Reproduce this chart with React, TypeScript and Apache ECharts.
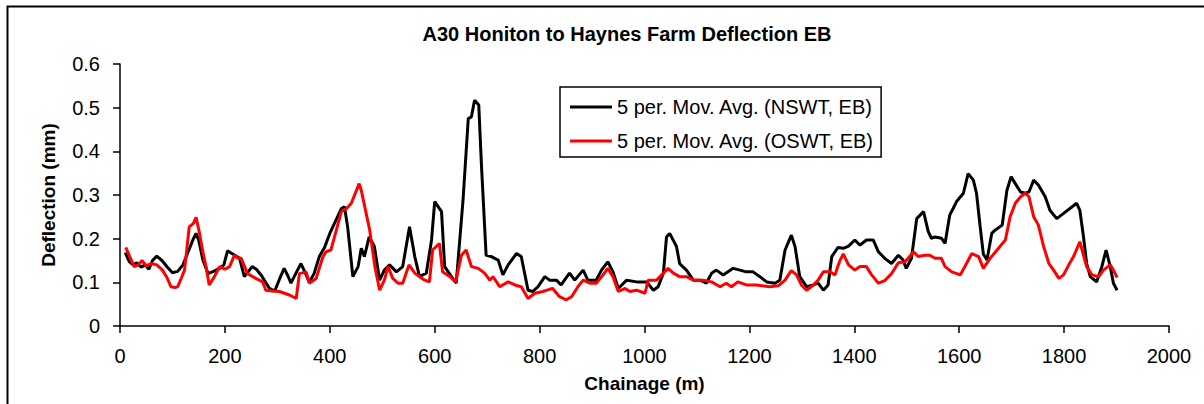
import React, { useEffect, useRef } from "react";
import * as echarts from "echarts";

const chartTitle = "A30 Honiton to Haynes Farm Deflection EB";
const xAxisName = "Chainage (m)";
const yAxisName = "Deflection (mm)";
const nswtName = "5 per. Mov. Avg. (NSWT, EB)";
const oswtName = "5 per. Mov. Avg. (OSWT, EB)";

const nswtChainage = [
  10, 18, 25, 32, 40, 48, 55, 62, 70, 80, 90, 100, 110, 120, 130, 140, 145, 150, 158, 168,
  178, 190, 198, 205, 215, 228, 237, 245, 252, 260, 270, 285, 295, 305, 313, 320, 326, 335, 345, 352,
  361, 370, 380, 390, 400, 412, 422, 428, 434, 444, 454, 460, 466, 475, 485, 495, 504, 514, 527, 539,
  552, 562, 571, 584, 594, 600, 613, 619, 632, 641, 654, 664, 670, 676, 684, 689, 698, 708, 721, 730,
  740, 756, 765, 778, 787, 797, 810, 819, 832, 841, 857, 867, 883, 892, 908, 918, 930, 940, 950, 966,
  985, 1004, 1017, 1026, 1036, 1042, 1048, 1061, 1067, 1080, 1093, 1106, 1118, 1128, 1137, 1150, 1169, 1182, 1194, 1207,
  1220, 1233, 1249, 1258, 1268, 1280, 1287, 1296, 1309, 1322, 1331, 1341, 1350, 1357, 1369, 1379, 1389, 1401, 1411, 1423,
  1436, 1446, 1458, 1471, 1484, 1493, 1499, 1509, 1519, 1532, 1541, 1547, 1554, 1566, 1573, 1582, 1595, 1608, 1617, 1627,
  1633, 1640, 1646, 1653, 1662, 1669, 1682, 1691, 1699, 1707, 1717, 1726, 1733, 1742, 1751, 1764, 1773, 1786, 1799, 1811,
  1824, 1830, 1837, 1843, 1850, 1862, 1872, 1880, 1888, 1894, 1901,
];
const nswtValues = [
  0.168, 0.147, 0.14, 0.145, 0.135, 0.14, 0.13, 0.15, 0.16, 0.15, 0.135, 0.122, 0.125, 0.14, 0.17, 0.2, 0.212, 0.197, 0.151, 0.12,
  0.125, 0.132, 0.14, 0.172, 0.165, 0.155, 0.113, 0.125, 0.136, 0.13, 0.115, 0.086, 0.08, 0.11, 0.132, 0.115, 0.098, 0.12, 0.143, 0.125,
  0.1, 0.12, 0.159, 0.18, 0.212, 0.243, 0.269, 0.273, 0.227, 0.113, 0.136, 0.178, 0.159, 0.204, 0.182, 0.105, 0.128, 0.14, 0.124, 0.136,
  0.227, 0.159, 0.113, 0.121, 0.197, 0.285, 0.262, 0.136, 0.113, 0.098, 0.288, 0.475, 0.479, 0.517, 0.506, 0.372, 0.162, 0.159, 0.151, 0.117,
  0.14, 0.166, 0.159, 0.082, 0.079, 0.09, 0.113, 0.105, 0.105, 0.094, 0.121, 0.105, 0.128, 0.105, 0.105, 0.128, 0.147, 0.124, 0.086, 0.105,
  0.101, 0.101, 0.082, 0.09, 0.121, 0.204, 0.212, 0.182, 0.143, 0.128, 0.105, 0.105, 0.098, 0.121, 0.128, 0.117, 0.132, 0.128, 0.124, 0.124,
  0.113, 0.101, 0.098, 0.105, 0.174, 0.208, 0.182, 0.113, 0.09, 0.094, 0.098, 0.082, 0.094, 0.159, 0.18, 0.178, 0.183, 0.197, 0.185, 0.197,
  0.197, 0.17, 0.155, 0.143, 0.162, 0.151, 0.132, 0.155, 0.246, 0.262, 0.216, 0.201, 0.204, 0.201, 0.189, 0.254, 0.285, 0.304, 0.349, 0.334,
  0.304, 0.227, 0.165, 0.151, 0.212, 0.22, 0.231, 0.311, 0.342, 0.326, 0.307, 0.304, 0.307, 0.334, 0.323, 0.296, 0.265, 0.246, 0.258, 0.269,
  0.281, 0.265, 0.204, 0.143, 0.113, 0.101, 0.136, 0.174, 0.136, 0.098, 0.082,
];

const oswtChainage = [
  11, 20, 27, 35, 42, 50, 60, 70, 81, 90, 97, 105, 110, 117, 123, 132, 140, 145, 151, 158,
  164, 170, 180, 190, 200, 209, 218, 225, 231, 243, 259, 272, 278, 290, 304, 323, 336, 342, 355, 361,
  374, 387, 393, 402, 409, 422, 432, 441, 456, 460, 476, 486, 495, 504, 511, 520, 530, 539, 551, 562,
  571, 581, 590, 596, 609, 615, 629, 640, 651, 660, 670, 683, 695, 705, 711, 724, 740, 753, 765, 778,
  791, 806, 819, 825, 838, 851, 861, 873, 883, 896, 908, 921, 930, 940, 950, 963, 972, 985, 1001, 1007,
  1023, 1036, 1045, 1055, 1067, 1080, 1093, 1112, 1128, 1144, 1156, 1166, 1178, 1194, 1213, 1239, 1255, 1268, 1280, 1290,
  1299, 1309, 1322, 1331, 1341, 1354, 1363, 1373, 1379, 1389, 1401, 1411, 1423, 1433, 1446, 1458, 1471, 1484, 1497, 1513,
  1522, 1535, 1544, 1554, 1566, 1573, 1586, 1602, 1614, 1624, 1637, 1646, 1659, 1675, 1688, 1697, 1707, 1717, 1726, 1733,
  1742, 1751, 1761, 1771, 1780, 1790, 1799, 1809, 1818, 1830, 1837, 1843, 1853, 1866, 1875, 1888, 1894, 1901,
];
const oswtValues = [
  0.18, 0.155, 0.136, 0.14, 0.15, 0.138, 0.143, 0.14, 0.128, 0.11, 0.09, 0.088, 0.09, 0.11, 0.128, 0.227, 0.235, 0.249, 0.216, 0.17,
  0.136, 0.094, 0.113, 0.136, 0.13, 0.136, 0.162, 0.155, 0.155, 0.12, 0.109, 0.101, 0.082, 0.08, 0.079, 0.071, 0.063, 0.12, 0.124, 0.098,
  0.109, 0.159, 0.17, 0.174, 0.204, 0.262, 0.269, 0.281, 0.326, 0.311, 0.22, 0.136, 0.082, 0.105, 0.136, 0.109, 0.098, 0.098, 0.14, 0.121,
  0.113, 0.105, 0.101, 0.174, 0.189, 0.124, 0.113, 0.101, 0.162, 0.174, 0.136, 0.132, 0.121, 0.105, 0.113, 0.09, 0.101, 0.094, 0.09, 0.063,
  0.075, 0.079, 0.084, 0.086, 0.067, 0.06, 0.067, 0.09, 0.105, 0.098, 0.098, 0.117, 0.132, 0.113, 0.079, 0.086, 0.079, 0.082, 0.075, 0.105,
  0.105, 0.121, 0.132, 0.121, 0.113, 0.113, 0.105, 0.105, 0.101, 0.09, 0.098, 0.09, 0.101, 0.094, 0.094, 0.09, 0.092, 0.105, 0.127, 0.117,
  0.094, 0.082, 0.094, 0.105, 0.124, 0.124, 0.117, 0.151, 0.165, 0.14, 0.128, 0.136, 0.136, 0.117, 0.098, 0.104, 0.12, 0.145, 0.147, 0.17,
  0.159, 0.162, 0.162, 0.155, 0.155, 0.136, 0.124, 0.117, 0.143, 0.166, 0.159, 0.132, 0.155, 0.178, 0.197, 0.25, 0.281, 0.296, 0.304, 0.296,
  0.25, 0.231, 0.182, 0.143, 0.128, 0.109, 0.117, 0.14, 0.159, 0.193, 0.162, 0.136, 0.117, 0.113, 0.128, 0.14, 0.128, 0.111,
];

const FONT = "'Liberation Sans', Arial, sans-serif";

export default function App() {
  const ref = useRef<HTMLDivElement>(null);

  useEffect(() => {
    if (!ref.current) return;
    const chart = echarts.init(ref.current, null, { renderer: "svg" });
    const nswtData = nswtChainage.map((c, i) => [c, nswtValues[i]]);
    const oswtData = oswtChainage.map((c, i) => [c, oswtValues[i]]);

    chart.setOption({
      animation: false,
      backgroundColor: "#ffffff",
      textStyle: { fontFamily: FONT },
      grid: { left: 120, top: 64, right: 35, bottom: 78, containLabel: false },
      graphic: [
        {
          type: "rect",
          z: -10,
          silent: true,
          shape: { x: 7.5, y: 6.5, width: 1400, height: 600 },
          style: { fill: "none", stroke: "#000", lineWidth: 2 },
        },
        {
          type: "text",
          x: 627,
          y: 34,
          style: {
            text: chartTitle,
            align: "center",
            verticalAlign: "middle",
            fontSize: 20,
            fontWeight: "bold",
            fontFamily: FONT,
            fill: "#000",
          },
        },
      ],
      legend: {
        left: 560,
        top: 87,
        orient: "vertical",
        backgroundColor: "#fff",
        borderColor: "#000",
        borderWidth: 1.5,
        borderRadius: 0,
        padding: [10, 7, 6, 10],
        itemGap: 14,
        itemWidth: 42,
        itemHeight: 3,
        icon: "rect",
        textStyle: { fontSize: 20, lineHeight: 20, color: "#000", fontFamily: FONT },
        data: [nswtName, oswtName],
      },
      xAxis: {
        type: "value",
        min: 0,
        max: 2000,
        interval: 200,
        name: xAxisName,
        nameLocation: "middle",
        nameGap: 48,
        nameTextStyle: { fontSize: 19, fontWeight: "bold", color: "#000", fontFamily: FONT },
        axisLine: { show: true, onZero: false, lineStyle: { color: "#000", width: 1.5 } },
        axisTick: { show: true, inside: false, length: 7, lineStyle: { color: "#000", width: 1.5 } },
        axisLabel: {
          color: "#000",
          fontSize: 20,
          margin: 20,
          fontFamily: FONT,
          formatter: (v: number) => String(v),
        },
        splitLine: { show: false },
      },
      yAxis: {
        type: "value",
        min: 0,
        max: 0.6,
        interval: 0.1,
        name: yAxisName,
        nameLocation: "middle",
        nameGap: 62,
        nameTextStyle: { fontSize: 19, fontWeight: "bold", color: "#000", fontFamily: FONT },
        axisLine: { show: true, lineStyle: { color: "#000", width: 1.5 } },
        axisTick: { show: true, inside: false, length: 7, lineStyle: { color: "#000", width: 1.5 } },
        axisLabel: {
          color: "#000",
          fontSize: 20,
          margin: 20,
          fontFamily: FONT,
          formatter: (v: number) => String(Math.round(v * 10) / 10),
        },
        splitLine: { show: false },
      },
      series: [
        {
          name: nswtName,
          type: "line",
          data: nswtData,
          symbol: "none",
          color: "#000000",
          lineStyle: { color: "#000000", width: 3 },
          z: 2,
        },
        {
          name: oswtName,
          type: "line",
          data: oswtData,
          symbol: "none",
          color: "#ff0000",
          lineStyle: { color: "#ff0000", width: 3 },
          z: 3,
        },
      ],
    });

    return () => chart.dispose();
  }, []);

  return (
    <div
      ref={ref}
      style={{ position: "fixed", left: 0, top: 0, width: 1204, height: 404, background: "#fff" }}
    />
  );
}
